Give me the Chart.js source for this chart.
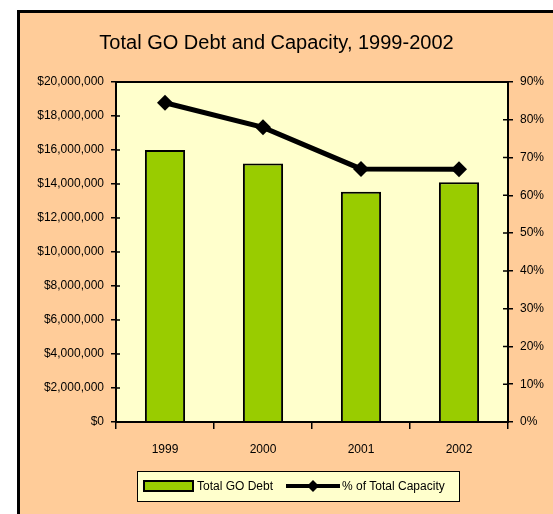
<!DOCTYPE html>
<html>
<head>
<meta charset="utf-8">
<script src="https://cdn.jsdelivr.net/npm/chart.js@4"></script>
<style>
  html, body { margin: 0; padding: 0; background: #fff; overflow: hidden; }
  #frame {
    position: absolute; left: 17px; top: 10px; width: 560px; height: 520px;
    background: #FFCC99; border: 3px solid #000; box-sizing: border-box;
  }
  #debtChart { position: absolute; left: 0; top: 0; }
</style>
</head>
<body>
<div id="frame"></div>
<canvas id="debtChart" width="553" height="514"></canvas>
<script>
const years = ['1999', '2000', '2001', '2002'];
const totalDebt = [16000000, 15200000, 13550000, 14100000];
const pctCapacity = [84.5, 78, 67, 66.9];
const debtTicks = [0, 2000000, 4000000, 6000000, 8000000, 10000000, 12000000, 14000000, 16000000, 18000000, 20000000];
const pctTicks = [0, 10, 20, 30, 40, 50, 60, 70, 80, 90];

const FONT = "'Liberation Sans', Arial, sans-serif";

// plot background + frame + crossing tick marks
const plotArea = {
  id: 'plotArea',
  beforeDraw(chart) {
    const { ctx, chartArea: a } = chart;
    ctx.save();
    ctx.fillStyle = '#FFFFCC';
    ctx.fillRect(a.left, a.top, a.right - a.left, a.bottom - a.top);
    ctx.restore();
  },
  afterDatasetsDraw(chart) {
    const { ctx, chartArea: a, scales } = chart;
    ctx.save();
    ctx.strokeStyle = '#000';
    ctx.lineWidth = 2;
    ctx.strokeRect(a.left, a.top, a.right - a.left, a.bottom - a.top);
    ctx.lineWidth = 1.5;
    ctx.beginPath();
    debtTicks.forEach(v => {
      const y = scales.y.getPixelForValue(v);
      ctx.moveTo(a.left, y); ctx.lineTo(a.left + 4, y);
    });
    pctTicks.forEach(v => {
      const y = scales.yPct.getPixelForValue(v);
      ctx.moveTo(a.right, y); ctx.lineTo(a.right - 5, y);
    });
    ctx.stroke();
    ctx.restore();
  }
};

// Excel style legend box
const boxLegend = {
  id: 'boxLegend',
  afterDraw(chart) {
    const { ctx } = chart;
    const ds = chart.data.datasets;
    const bx = 137, by = 471, bw = 322, bh = 30, cy = by + bh / 2;
    ctx.save();
    ctx.fillStyle = '#FFFFCC';
    ctx.fillRect(bx, by, bw, bh);
    ctx.strokeStyle = '#000';
    ctx.lineWidth = 1;
    ctx.strokeRect(bx + 0.5, by + 0.5, bw, bh);
    ctx.font = '12px ' + FONT;
    ctx.textBaseline = 'middle';
    // bar swatch
    const bar = ds.find(d => d.type === 'bar');
    ctx.fillStyle = bar.backgroundColor;
    ctx.fillRect(144, cy - 5, 49, 10);
    ctx.lineWidth = 2;
    ctx.strokeStyle = '#000';
    ctx.strokeRect(144, cy - 5, 49, 10);
    ctx.fillStyle = '#000';
    ctx.fillText(bar.label, 197, cy + 1);
    // line swatch
    const line = ds.find(d => d.type === 'line');
    ctx.lineWidth = 4;
    ctx.beginPath();
    ctx.moveTo(286, cy); ctx.lineTo(340, cy);
    ctx.stroke();
    ctx.beginPath();
    ctx.moveTo(313, cy - 6); ctx.lineTo(319, cy); ctx.lineTo(313, cy + 6); ctx.lineTo(307, cy);
    ctx.closePath();
    ctx.fill();
    ctx.fillText(line.label, 342, cy + 1);
    ctx.restore();
  }
};

new Chart(document.getElementById('debtChart').getContext('2d'), {
  data: {
    labels: years,
    datasets: [
      {
        type: 'line',
        label: '% of Total Capacity',
        data: pctCapacity,
        yAxisID: 'yPct',
        borderColor: '#000',
        backgroundColor: '#000',
        borderWidth: 5,
        pointStyle: 'rectRot',
        pointRadius: 8,
        pointBorderWidth: 0,
        tension: 0,
        order: 0,
      },
      {
        type: 'bar',
        label: 'Total GO Debt',
        data: totalDebt,
        yAxisID: 'y',
        backgroundColor: '#99CC00',
        borderColor: '#000',
        borderWidth: 2,
        barPercentage: 0.41,
        categoryPercentage: 1,
        order: 1,
      },
    ],
  },
  options: {
    responsive: false,
    animation: false,
    layout: { padding: 0 },
    plugins: {
      legend: { display: false },
      tooltip: { enabled: false },
      title: {
        display: true,
        text: 'Total GO Debt and Capacity, 1999-2002',
        color: '#000',
        font: { family: FONT, size: 20, weight: 'normal' },
        padding: { top: 31, bottom: 27 },
      },
    },
    scales: {
      x: {
        offset: true,
        grid: { display: true, drawOnChartArea: false, offset: true, tickLength: 7, color: '#000', lineWidth: 1.5 },
        border: { display: true, color: '#000', width: 2 },
        ticks: { color: '#000', font: { family: FONT, size: 12 }, padding: 13, maxRotation: 0 },
        afterFit(s) { s.height = 92; },
      },
      y: {
        position: 'left',
        min: 0,
        max: 20000000,
        afterBuildTicks(s) { s.ticks = debtTicks.map(v => ({ value: v })); },
        grid: { display: true, drawOnChartArea: false, tickLength: 5, color: '#000', lineWidth: 1.5 },
        border: { display: true, color: '#000', width: 2 },
        ticks: {
          color: '#000',
          font: { family: FONT, size: 12 },
          padding: 7,
          callback: v => '$' + Number(v).toLocaleString('en-US'),
        },
        afterFit(s) { s.width = 116; },
      },
      yPct: {
        position: 'right',
        min: 0,
        max: 90,
        afterBuildTicks(s) { s.ticks = pctTicks.map(v => ({ value: v })); },
        grid: { display: true, drawOnChartArea: false, tickLength: 5, color: '#000', lineWidth: 1.5 },
        border: { display: true, color: '#000', width: 2 },
        ticks: {
          color: '#000',
          font: { family: FONT, size: 12 },
          padding: 7,
          callback: v => v + '%',
        },
        afterFit(s) { s.width = 45; },
      },
    },
  },
  plugins: [plotArea, boxLegend],
});
</script>
</body>
</html>
